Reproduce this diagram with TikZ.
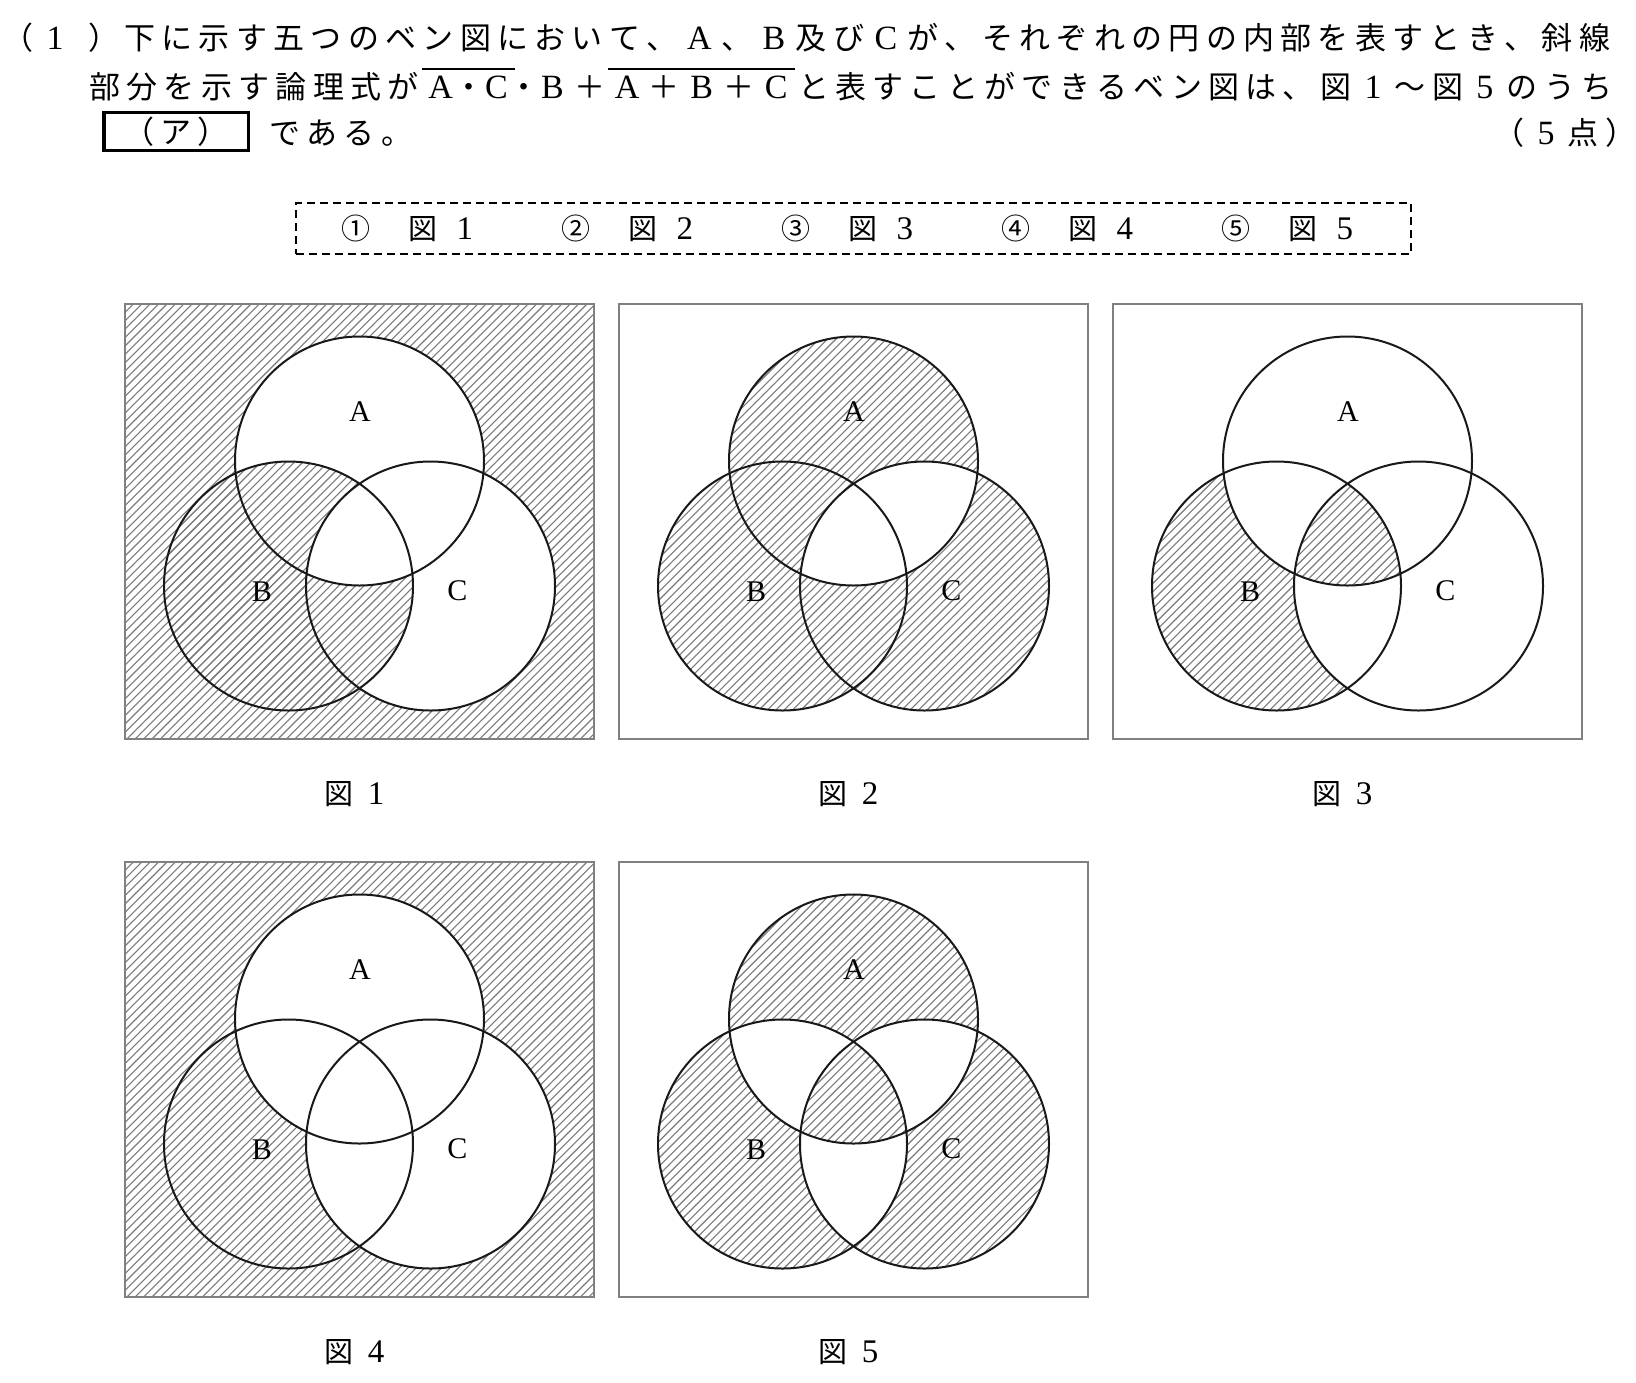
\documentclass[tikz,border=0pt]{standalone}
\usepackage{fontspec}
\newfontfamily\jp{Noto Sans CJK JP}
\newfontfamily\lser{Liberation Serif}
\newlength\jsw \setlength\jsw{37.3pt}
\def\jsendmark{\jsend}
\def\jspread#1{\jspreadA#1\jsend}
\def\jspreadA#1{\def\jstmp{#1}\ifx\jstmp\jsendmark\else\makebox[\jsw]{#1}\expandafter\jspreadA\fi}
\newcommand\jcell[1]{\makebox[\jsw]{#1}}
\newcommand\jhcell[1]{\makebox[.5\jsw]{#1}}
\newcommand\lat{\lser\fontsize{34}{36}\selectfont}
\newcommand\ovl[1]{\vbox{\hrule height 1.8pt\kern 5.5pt\hbox{\vrule height 23pt depth 0pt width 0pt\smash{#1}}}}
\newcommand\maintext{\jp\fontsize{31}{36}\selectfont}
\newcommand\figtext{\jp\fontsize{29}{32}\selectfont}
\newcommand\figdigit{\lser\fontsize{33}{34}\selectfont}
\def\R{124.5}
\tikzset{
  hatchline/.style={draw=black!52, line width=1.1pt},
  ring/.style={draw=black!90, line width=2pt},
  frame/.style={draw=black!50, line width=1.5pt},
  vennlab/.style={font=\lser\fontsize{30}{32}\selectfont, inner sep=0pt, anchor=base},
  caption/.style={font=\figtext, inner sep=0pt, anchor=base},
  txt/.style={font=\maintext, inner sep=0pt, anchor=base west},
  dashbox/.style={draw=black, line width=2pt, dash pattern=on 8pt off 5pt},
}
\newcommand\hatch[2]{\path[hatchline] \foreach \k in {0,...,110}{({#1-440+\k*8.4},{#2+440}) -- ({#1+\k*8.4},{#2})};}
\newcommand\venncoords[3]{%
  \coordinate (A#1) at ({#2+234.5},{#3+157});
  \coordinate (B#1) at ({#2+163.5},{#3+282});
  \coordinate (C#1) at ({#2+305.5},{#3+282});
  \coordinate (F#1) at (#2,#3);}
\newcommand\vennfinish[3]{%
  \draw[ring] (A#1) circle[radius=\R] (B#1) circle[radius=\R] (C#1) circle[radius=\R];
  \draw[frame] (F#1) rectangle ++(469,435);
  \node[vennlab] (la#1) at ({#2+235},{#3+117.6}) {A};
  \node[vennlab] (lb#1) at ({#2+137},{#3+297.6}) {B};
  \node[vennlab] (lc#1) at ({#2+332.3},{#3+296.6}) {C};
  \node[caption] (cap#1) at ({#2+229.25},{#3+500}) {図\hspace{14.5pt}{\figdigit #1}};}
\begin{document}
\begin{tikzpicture}[x=1pt,y=-1pt]
\fill[white] (0,0) rectangle (1636,1382);
\useasboundingbox (0,0) rectangle (1636,1382);

% ---- question text ----
\node[txt] (num) at (-1,49) {\jcell{（}\jcell{\lat 1}\hspace{12pt}\jcell{）}};
\node[txt] (l1) at (121,49) {\jspread{下に示す五つのベン図において、{\lat A}、{\lat B}及び{\lat C}が、それぞれの円の内部を表すとき、斜線}};
\node[txt] (l2) at (86,98) {\jspread{部分を示す論理式が}\ovl{\jcell{\lat A}\jhcell{・}\jcell{\lat C}}\jhcell{・}\jcell{\lat B}\jcell{＋}\ovl{\jspread{{\lat A}＋{\lat B}＋{\lat C}}}\jspread{と表すことができるベン図は、図{\lat 1}～図{\lat 5}のうち}};
\node[draw=black, line width=3.5pt, minimum width=144.5, minimum height=38.2, inner sep=0pt, font=\maintext] (ans) at (176,131.5) {\jspread{（ア）}};
\node[txt] (l3) at (266,144) {\jspread{である。}};
\node[txt] (pts) at (1490,144) {\jspread{（{\lat 5}点）}};

% ---- choices ----
\node[dashbox, minimum width=1115, minimum height=51, inner sep=0pt] (choices) at (853,228.5) {};
\foreach \i/\c in {1/①,2/②,3/③,4/④,5/⑤}{
  \node[font=\figtext, inner sep=0pt, anchor=base west] (ch\i) at ({356+220*(\i-1)-14.5},239.5) {\c\hspace{38pt}図\hspace{19pt}{\figdigit \i}};
}

% ---- figure 1 ----
\venncoords{1}{125}{304}
\begin{scope}\clip (F1) rectangle ++(469,435); \hatch{125}{304} \end{scope}
\fill[white] (A1) circle[radius=\R] (C1) circle[radius=\R];
\begin{scope}\clip (B1) circle[radius=\R]; \hatch{125}{304} \end{scope}
\begin{scope}\clip (A1) circle[radius=\R]; \clip (C1) circle[radius=\R]; \fill[white] (B1) circle[radius=\R]; \end{scope}
\vennfinish{1}{125}{304}

% ---- figure 2 ----
\venncoords{2}{619}{304}
\begin{scope}\clip (A2) circle[radius=\R] (B2) circle[radius=\R] (C2) circle[radius=\R]; \hatch{619}{304} \end{scope}
\begin{scope}\clip (A2) circle[radius=\R]; \fill[white] (C2) circle[radius=\R]; \end{scope}
\vennfinish{2}{619}{304}

% ---- figure 3 ----
\venncoords{3}{1113}{304}
\begin{scope}\clip (B3) circle[radius=\R]; \hatch{1113}{304} \end{scope}
\begin{scope}\clip (B3) circle[radius=\R]; \fill[white] (A3) circle[radius=\R] (C3) circle[radius=\R]; \end{scope}
\begin{scope}\clip (A3) circle[radius=\R]; \clip (B3) circle[radius=\R]; \clip (C3) circle[radius=\R]; \hatch{1113}{304} \end{scope}
\vennfinish{3}{1113}{304}

% ---- figure 4 ----
\venncoords{4}{125}{862}
\begin{scope}\clip (F4) rectangle ++(469,435); \hatch{125}{862} \end{scope}
\fill[white] (A4) circle[radius=\R] (C4) circle[radius=\R];
\vennfinish{4}{125}{862}

% ---- figure 5 ----
\venncoords{5}{619}{862}
\begin{scope}\clip (A5) circle[radius=\R] (B5) circle[radius=\R] (C5) circle[radius=\R]; \hatch{619}{862} \end{scope}
\begin{scope}\clip (A5) circle[radius=\R]; \fill[white] (B5) circle[radius=\R] (C5) circle[radius=\R]; \end{scope}
\begin{scope}\clip (B5) circle[radius=\R]; \fill[white] (C5) circle[radius=\R]; \end{scope}
\begin{scope}\clip (A5) circle[radius=\R]; \clip (B5) circle[radius=\R]; \clip (C5) circle[radius=\R]; \hatch{619}{862} \end{scope}
\vennfinish{5}{619}{862}
\end{tikzpicture}
\end{document}
